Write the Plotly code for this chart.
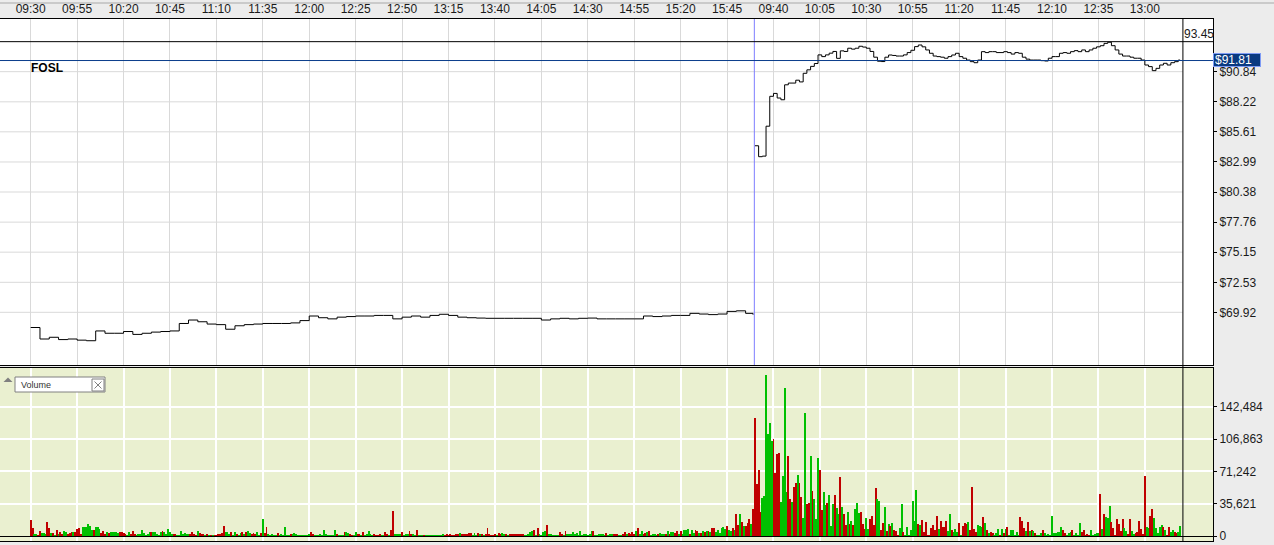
import plotly.graph_objects as go

W, H = 1274, 545

# ---------------- data ----------------
symbol = "FOSL"
day1_tick_labels = ["09:30", "09:55", "10:20", "10:45", "11:10", "11:35", "12:00", "12:25",
                    "12:50", "13:15", "13:40", "14:05", "14:30", "14:55", "15:20", "15:45"]
day2_tick_labels = ["09:40", "10:05", "10:30", "10:55", "11:20", "11:45", "12:10", "12:35", "13:00"]

price_ticks = [69.92, 72.53, 75.15, 77.76, 80.38, 82.99, 85.61, 88.22, 90.84]
volume_ticks = [0, 35621, 71242, 106863, 142484]
session_high = 93.45
last_price = 91.81

# day 1 closes, every 5 minutes from 09:30, plus last bar (15:59)
day1_close = [68.6, 67.6, 67.75, 67.55, 67.6, 67.5, 67.45, 68.3, 68.1, 68.1,
              68.25, 68.0, 68.1, 68.2, 68.25, 68.3, 68.95, 69.25, 69.1, 68.9,
              68.85, 68.45, 68.75, 68.85, 68.9, 68.95, 68.95, 68.95, 69.0, 69.2,
              69.6, 69.45, 69.35, 69.5, 69.55, 69.6, 69.6, 69.65, 69.65, 69.35,
              69.5, 69.6, 69.5, 69.65, 69.75, 69.65, 69.5, 69.45, 69.42, 69.4,
              69.4, 69.4, 69.4, 69.4, 69.4, 69.25, 69.35, 69.4, 69.35, 69.4,
              69.42, 69.35, 69.35, 69.35, 69.35, 69.35, 69.6, 69.55, 69.6, 69.65,
              69.65, 69.83, 69.77, 69.72, 69.77, 70.0, 70.05, 69.83]
day1_last_close = 69.71

# day 2 closes, every 2 minutes from 09:30, plus last bar (13:19)
day2_close = [84.4, 83.45, 83.5, 86.1, 88.7, 88.95, 88.55, 88.4, 89.7, 89.85,
              89.85, 90.1, 89.95, 90.7, 91.0, 91.3, 91.55, 92.3, 92.15, 92.3,
              92.45, 92.6, 92.0, 92.65, 92.6, 92.88, 92.8, 92.88, 93.05, 92.98,
              92.88, 92.6, 92.1, 91.75, 91.72, 92.1, 92.29, 92.25, 92.2, 92.2,
              92.3, 92.5, 92.7, 93.02, 93.16, 93.0, 92.73, 92.44, 92.2, 92.15,
              92.1, 92.01, 92.15, 92.29, 92.44, 92.15, 92.01, 91.85, 91.71, 91.62,
              91.85, 92.58, 92.5, 92.58, 92.58, 92.5, 92.5, 92.58, 92.5, 92.37,
              92.5, 92.44, 92.1, 91.93, 91.85, 91.85, 91.85, 91.8, 91.77, 92.01,
              92.15, 92.15, 92.44, 92.5, 92.44, 92.58, 92.67, 92.58, 92.73, 92.58,
              92.73, 92.88, 93.0, 93.1, 93.3, 93.4, 93.1, 92.73, 92.37, 92.2,
              92.2, 92.1, 92.01, 92.01, 91.85, 91.42, 91.28, 90.93, 91.13, 91.42,
              91.57, 91.42, 91.62, 91.71, 91.85]
day2_last_close = 91.81

# per-minute volume (thousands of shares); direction g = up, r = down
day1_volume_k = [18, 9, 1.5, 2, 1, 5, 3, 3, 2, 15,
                 9, 3, 3, 1, 6.6, 2, 4, 1.5, 5, 4,
                 2, 3, 4, 4, 4, 8, 9, 2, 10, 10,
                 10, 13, 11, 7, 7, 10, 10, 8, 3, 5,
                 2, 4, 3, 4, 4, 4, 4, 3, 4, 4,
                 3, 2, 0.5, 4, 2, 5, 2, 0.5, 1.5, 2,
                 7, 3, 0.5, 2, 4, 4, 4, 4, 1.5, 0.5,
                 4, 6, 4, 1.5, 8, 4, 2, 2, 1.5, 0.5,
                 1, 6, 2, 3, 1.5, 2, 2, 4, 2, 1,
                 5, 3, 2, 1.5, 0.5, 1.5, 1, 1, 0.5, 1,
                 1, 2, 2, 3, 11, 4, 4, 2, 4, 1,
                 4, 2, 1, 3, 4, 1.5, 4, 5, 3, 2,
                 3, 2, 4, 1, 3, 19, 3, 10, 1.5, 0.5,
                 1.5, 1, 0.5, 3, 0.5, 1.5, 1, 10, 1, 0.5,
                 2, 1.5, 3, 1.5, 1, 0.5, 0.5, 1, 0.5, 0.5,
                 2, 4, 1.5, 0.5, 1, 0.5, 2, 0.5, 7, 2,
                 0.5, 1, 0.5, 0.5, 7, 2, 0.5, 0.5, 1, 4,
                 4, 3, 1.5, 1, 0.5, 4, 2, 1.5, 0.5, 4,
                 0.5, 2, 6, 1.5, 0.5, 2, 1, 1, 1.5, 0.5,
                 0.5, 4, 1.5, 0.5, 7, 28, 1.5, 2, 1.5, 2,
                 4, 0.5, 2, 2, 6, 2, 2, 0.5, 7, 0.5,
                 0.5, 0.5, 1, 0.5, 0.5, 0.5, 0.5, 1, 0.5, 0.5,
                 1, 1, 1.5, 1, 1.5, 1, 1.5, 1, 1, 1.5,
                 1.5, 3, 1.5, 1.5, 2, 1.5, 3, 3, 0.5, 3,
                 0.5, 3, 2, 1.5, 0.5, 2, 9, 2, 1, 1,
                 1.5, 0.5, 3, 2, 3, 2, 2, 0.5, 2, 1.5,
                 2, 1.5, 1.5, 2, 1.5, 2, 0.5, 0.5, 1.5, 4,
                 5, 7, 0.5, 9, 2, 0.5, 4, 5, 12, 1.5,
                 1.5, 0.5, 0.5, 1, 0.5, 4, 1.5, 0.5, 6, 1.5,
                 2, 2, 4, 1.5, 3, 0.5, 5, 0.5, 1.5, 1.5,
                 0.5, 2, 5, 6, 0.5, 0.5, 2, 1.5, 1.5, 0.5,
                 3, 0.5, 2, 2, 2, 2, 1.5, 0.5, 0.5, 1.5,
                 4, 1.5, 3, 2, 4, 2, 5, 9, 2, 5,
                 2, 3, 4, 5, 0.5, 2, 2, 0.5, 1.5, 3,
                 1.5, 2, 1.5, 5, 1.5, 4, 4, 3, 5, 2,
                 5, 1.5, 7, 7, 8, 2, 7, 3, 7, 5,
                 3, 3, 6, 4, 5, 6, 4, 9, 9, 4,
                 7, 3, 9, 10, 8, 11, 7, 6, 9, 7,
                 24, 12, 24, 15, 11, 11, 14, 19, 13, 30]
day1_direction = ("rrggrrgggr" "rgrgrgrrgg" "rrrgrrrrgg" "ggggrgggrr" "rgrgggggrr"
                  "rrggrrrggg" "gggggrgggg" "grgggggrrg" "ggggggrrrr" "grrrgrgrgr"
                  "rrrrrgggrg" "grggrgrggr" "rrggrgrrgg" "gggrgggggg" "rggggggggg"
                  "grrggggggg" "gggggrgggr" "ggrrggrrgr" "gggggrrrrg" "grrgrrgggg"
                  "rgggrrggrg" "ggrggggggg" "gggrrrrrrr" "rgrrrrrrgg" "grgrgrrrrr"
                  "rgrrggrgrr" "rrrrrrgggg" "grgrggggrg" "gggggrrgrg" "gggggggggg"
                  "gggrgggggg" "rgggrrrggr" "rgrrrrgrgg" "rrgrggggrg" "ggrgrggrrg"
                  "rggggrggrr" "grgrgrgrrg" "gggggrggrg" "rrgrgrrrgr")

day2_volume_k = [130, 57, 73, 26, 42, 44, 178, 113, 125, 105,
                 107, 69, 90, 91, 37, 66, 163, 48, 88, 41,
                 37, 54, 59, 67, 58, 43, 20, 136, 35, 36,
                 88, 50, 41, 19, 86, 73, 29, 48, 34, 36,
                 45, 11, 35, 45, 31, 24, 65, 32, 24, 12,
                 26, 13, 17, 12, 30, 36, 25, 26, 13, 8,
                 20, 8, 19, 22, 12, 53, 41, 39, 7, 14,
                 32, 5, 13, 11, 14, 7, 5, 1, 9, 35,
                 4, 1, 10, 1, 7, 39, 17, 51, 13, 12,
                 18, 4, 15, 1, 1, 9, 12, 7, 22, 8,
                 17, 10, 10, 17, 5,
                 24, 7, 4, 8, 4, 14, 0.5, 11, 14, 13,
                 15, 7, 54, 8, 4, 12, 11, 10, 21, 14,
                 7, 3, 4, 3, 0.5, 3, 8, 1, 8, 3,
                 8, 10, 1, 7, 7, 1, 4, 1, 21, 17,
                 9, 6, 15, 6, 7, 6, 3, 0.5, 1, 3,
                 7, 3, 0.5, 2, 1, 22, 3, 3, 4, 4,
                 10, 7, 3, 1, 3, 4, 7, 1, 3, 0.5,
                 14, 4, 7, 1, 2, 1, 7, 0.5, 2, 3,
                 3, 46, 8, 24, 21, 20, 33, 15, 9, 1,
                 19, 13, 6, 19, 9, 6, 2, 19, 6, 2,
                 3, 4, 17, 8, 2, 66, 10, 9, 22, 30,
                 20, 9, 3, 10, 12, 10, 7, 1, 10, 4,
                 7, 4, 3, 4, 11]
day2_direction = ("rrrrgggggg" "rrrrggggrr" "grrgrrggrr" "grgggrrggr" "gggrggrgrr"
                  "grgrgggrrr" "ggrrrrggrr" "grgrgrrrgg" "rgggggggrg" "rrrrrrrrrg"
                  "rrrrg"
                  "grgggrgrrr" "grrrrgggrg" "rgrrgggrgr" "grggggggrr" "rgrgrgrggg"
                  "rggggggggg" "grrgggrggg" "grrrrrgggg" "grgrgggrrr" "rrrrggrrgg"
                  "rrrrrrggrr" "gggggrgrrg" "grrgg")

# ---------------- helpers ----------------
def session_minute(label, day):
    h, m = label.split(":")
    mins = int(h) * 60 + int(m) - 570
    return mins if day == 1 else 390 + mins

tick_vals = [session_minute(t, 1) for t in day1_tick_labels] + [session_minute(t, 2) for t in day2_tick_labels]
tick_text = day1_tick_labels + day2_tick_labels

d1x = [5 * k for k in range(len(day1_close))] + [389]
d1y = day1_close + [day1_last_close]
d2x = [390 + 2 * k for k in range(len(day2_close))] + [390 + 229]
d2y = day2_close + [day2_last_close]

vol_x = list(range(len(day1_volume_k))) + [390 + i for i in range(len(day2_volume_k))]
vol_y = [v * 1000 for v in day1_volume_k + day2_volume_k]
GREEN, RED = "#00c000", "#c00000"
vol_c = [GREEN if d == "g" else RED for d in day1_direction + day2_direction]

def px(x):
    return x / W

def py(y):
    return 1 - y / H

XR = [-16.53, 636.7]
XDOM = [0, 1213 / W]
PRICE_DOM = [py(365), py(19)]
VOL_DOM = [py(541), py(368)]
DATA_END = 620.5

fig = go.Figure()
fig.add_trace(go.Bar(x=vol_x, y=vol_y, marker=dict(color=vol_c, line=dict(width=0)),
                     width=0.5, xaxis="x2", yaxis="y2", hoverinfo="skip"))
for xs, ys in ((d1x, d1y), (d2x, d2y)):
    fig.add_trace(go.Scatter(x=xs, y=ys, mode="lines",
                             line=dict(color="black", width=1, shape="hv"),
                             xaxis="x", yaxis="y", hoverinfo="skip"))

axis_font = dict(family="Liberation Sans, Arial, sans-serif", size=12, color="#1a1a1a")

fig.update_layout(
    width=W, height=H, autosize=False,
    margin=dict(l=0, r=0, t=0, b=0, pad=0),
    paper_bgcolor="#ececec",
    plot_bgcolor="white",
    showlegend=False,
    font=axis_font,
    bargap=0,
    xaxis=dict(domain=XDOM, range=XR, anchor="y", side="top", automargin=False,
               tickvals=tick_vals, ticktext=tick_text, tickfont=axis_font,
               showgrid=True, gridcolor="#d9d9d9", gridwidth=1, zeroline=False,
               showline=True, mirror=True, linecolor="black", linewidth=1, ticks=""),
    yaxis=dict(domain=PRICE_DOM, range=[65.34, 95.42], anchor="x", side="right", automargin=False,
               tickvals=price_ticks, ticktext=["$%.2f" % v for v in price_ticks], tickfont=axis_font,
               showgrid=False, zeroline=False,
               showline=True, mirror=True, linecolor="black", linewidth=1,
               ticks="outside", ticklen=3, tickcolor="black"),
    xaxis2=dict(domain=XDOM, range=XR, anchor="y2", tickvals=tick_vals, showticklabels=False,
                automargin=False,
                showgrid=True, gridcolor="white", gridwidth=2, zeroline=False,
                showline=True, mirror=True, linecolor="black", linewidth=1, ticks=""),
    yaxis2=dict(domain=VOL_DOM, range=[-5514, 185260], anchor="x2", side="right", automargin=False,
                tickvals=volume_ticks, ticktext=[f"{v:,}" for v in volume_ticks], tickfont=axis_font,
                showgrid=True, gridcolor="white", gridwidth=2,
                zeroline=True, zerolinecolor="black", zerolinewidth=1,
                showline=True, mirror=True, linecolor="black", linewidth=1,
                ticks="outside", ticklen=3, tickcolor="black"),
)

shapes = [
    # volume panel background
    dict(type="rect", xref="paper", yref="paper", x0=XDOM[0], x1=XDOM[1], y0=VOL_DOM[0], y1=VOL_DOM[1],
         fillcolor="#eaf0d0", line=dict(width=0), layer="below"),
]
# price gridlines, stopping at the last bar
for v in price_ticks:
    shapes.append(dict(type="line", xref="x", yref="y", x0=XR[0], x1=DATA_END, y0=v, y1=v,
                       line=dict(color="#d9d9d9", width=1), layer="below"))
shapes += [
    # data end vertical line
    dict(type="line", xref="x", yref="paper", x0=DATA_END, x1=DATA_END, y0=VOL_DOM[0], y1=PRICE_DOM[1],
         line=dict(color="black", width=1)),
    # day separator
    dict(type="line", xref="x", yref="paper", x0=389.7, x1=389.7, y0=PRICE_DOM[0], y1=PRICE_DOM[1],
         line=dict(color="#7d7dff", width=1)),
    # session high line
    dict(type="line", xref="paper", yref="y", x0=XDOM[0], x1=XDOM[1], y0=session_high, y1=session_high,
         line=dict(color="black", width=1)),
    # last price line
    dict(type="line", xref="paper", yref="y", x0=XDOM[0], x1=XDOM[1], y0=last_price, y1=last_price,
         line=dict(color="#0b3d8c", width=1)),
    # thin line at the very top
    dict(type="line", xref="paper", yref="paper", x0=0, x1=1, y0=py(3), y1=py(3),
         line=dict(color="#a8a8a8", width=1)),
    # volume legend box
    dict(type="rect", xref="paper", yref="paper", x0=px(15), x1=px(105), y0=py(392), y1=py(377),
         fillcolor="white", line=dict(color="#808080", width=1)),
    dict(type="rect", xref="paper", yref="paper", x0=px(92), x1=px(104), y0=py(391), y1=py(379),
         fillcolor="white", line=dict(color="#808080", width=1)),
    dict(type="line", xref="paper", yref="paper", x0=px(94.5), x1=px(101.5), y0=py(381.5), y1=py(388.5),
         line=dict(color="#808080", width=1)),
    dict(type="line", xref="paper", yref="paper", x0=px(94.5), x1=px(101.5), y0=py(388.5), y1=py(381.5),
         line=dict(color="#808080", width=1)),
    dict(type="path", xref="paper", yref="paper",
         path=f"M {px(3.5)},{py(382)} L {px(12.5)},{py(382)} L {px(8)},{py(377.5)} Z",
         fillcolor="#808080", line=dict(width=0)),
]
fig.update_layout(shapes=shapes)

annotations = [
    dict(text=f"<b>{symbol}</b>", xref="paper", yref="paper", x=px(29), y=py(67.5),
         xanchor="left", yanchor="middle", showarrow=False,
         font=dict(family="Liberation Sans, Arial, sans-serif", size=12, color="black")),
    dict(text=f"{session_high:.2f}", xref="paper", yref="paper", x=px(1216), y=py(34),
         xanchor="right", yanchor="middle", showarrow=False, font=axis_font),
    dict(text=f"${last_price:.2f}", xref="paper", yref="paper", x=px(1213), y=py(60.5),
         xanchor="left", yanchor="middle", showarrow=False, align="left",
         width=44, height=10, bgcolor="#0a3a80", bordercolor="#7f9cf5", borderwidth=1, borderpad=1,
         font=dict(family="Liberation Sans, Arial, sans-serif", size=12, color="white")),
    dict(text="Volume", xref="paper", yref="paper", x=px(19), y=py(384.5),
         xanchor="left", yanchor="middle", showarrow=False,
         font=dict(family="Liberation Sans, Arial, sans-serif", size=9, color="#333333")),
]
fig.update_layout(annotations=annotations)

fig.write_html("out.html",
               config={"displayModeBar": False},
               post_script="document.body.style.margin='0';document.body.style.padding='0';"
                           "document.body.style.overflow='hidden';")
